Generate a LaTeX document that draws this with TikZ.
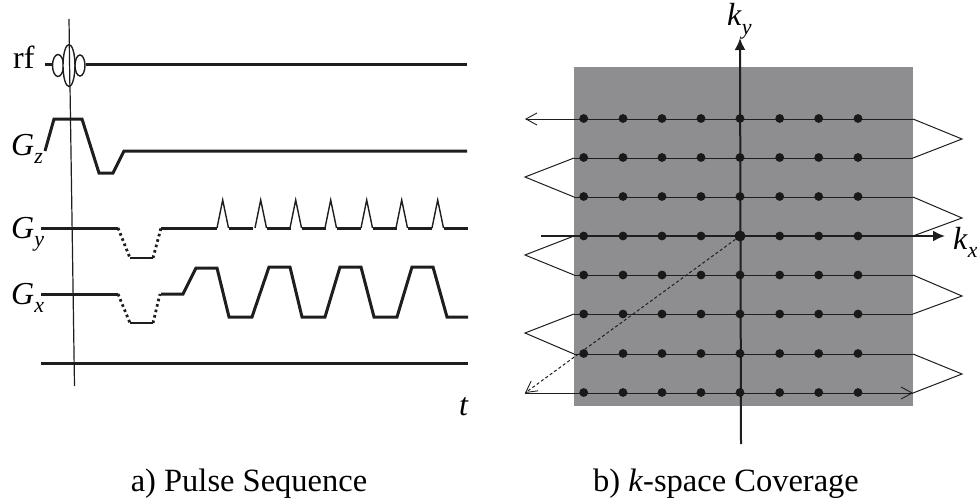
\documentclass[tikz,border=0pt]{standalone}
\usepackage{fontspec}
\setmainfont{Liberation Serif}
\usetikzlibrary{arrows.meta,shapes.geometric}
\definecolor{fieldgray}{RGB}{142,142,145}
\definecolor{lineblack}{RGB}{30,30,32}
\newcommand{\symlabel}[2]{\textit{#1}\raisebox{-.26em}{\fontsize{22}{22}\selectfont\textit{#2}}}

\begin{document}
\begin{tikzpicture}[
  x=1pt, y=-1pt,
  wave/.style={draw=lineblack, line width=3pt, line join=miter},
  pulse/.style={draw=lineblack, line width=1.4pt},
  dots/.style={draw=lineblack, line width=2.8pt, dash pattern=on 2.6pt off 3pt},
  thin line/.style={draw=lineblack, line width=1.2pt},
  trace/.style={draw=lineblack, line width=1pt},
  axis/.style={draw=lineblack, line width=2pt, -{Latex[length=12pt,width=11pt]}},
  barb/.style={-{Straight Barb[length=11pt,width=12pt,line width=0.9pt]}},
  dot/.style={circle, fill=black!90, inner sep=0pt, minimum size=8.8pt},
  lab/.style={anchor=base west, inner sep=0pt, font=\fontsize{32}{32}\selectfont},
  captext/.style={anchor=base, inner sep=0pt, font=\fontsize{32.5}{32.5}\selectfont}
]
\useasboundingbox (0,0) rectangle (977,503);

% pulse sequence
\node[lab] (rf) at (13,69) {rf};
\node[lab] (gz) at (11,155) {\symlabel{G}{z}};
\node[lab] (gy) at (11,238) {\symlabel{G}{y}};
\node[lab] (gx) at (11,304) {\symlabel{G}{x}};
\node[lab] (tlab) at (459,415) {\textit{t}};

\draw[thin line] (69,19) -- (74.5,386);
\draw[wave] (45,65) -- (52,65);
\draw[wave] (86,65) -- (467,65);
\foreach \name/\cx/\rx/\ry in {lobea/58/5.5/11, lobeb/69/6/21, lobec/80/5/10.5}
  \node[ellipse, draw=lineblack, line width=1.4pt, fill=white, inner sep=0pt, minimum width=2*\rx pt, minimum height=2*\ry pt] (\name) at (\cx,65.5) {};
\draw[thin line] (69.3,45) -- (69.9,87);

\draw[wave] (45,151) -- (54,119) -- (82,119) -- (99,173) -- (113,173) -- (124,151) -- (467,151);

\draw[wave] (41,228) -- (118,228);
\draw[dots] (118,228) -- (130,258);
\draw[wave, line width=2.4pt] (130,258) -- (153,258);
\draw[dots] (153,258) -- (161,228);
\draw[wave] (161,228) -- (217,228);
\foreach \sx [count=\n] in {217,255,290,325,361,396,432} {
  \draw[pulse] (\sx,228) -- (\sx+5.7,200) -- (\sx+11.5,228);
  \ifnum\n<7 \draw[wave] (\sx+11.5,228) -- (\sx+36,228); \fi
}
\draw[wave] (443.5,228) -- (468,228);

\draw[wave] (41,294) -- (118,294);
\draw[dots] (118,294) -- (130,323);
\draw[wave, line width=2.4pt] (130,323) -- (153,323);
\draw[dots] (153,323) -- (160,294);
\draw[wave] (161,294) -- (183,294) -- (196,268) -- (217,268) -- (229,317) -- (252,317) -- (269,267) -- (290,267) -- (302,317) -- (325,317) -- (340,267) -- (361,267) -- (374,317) -- (397,317) -- (412,267) -- (433,267) -- (447,317) -- (468,317);

\draw[wave] (41,363) -- (468,363);

% k-space
\node[fill=fieldgray, inner sep=0pt, minimum width=339pt, minimum height=339pt] (field) at (743.5,236.5) {};

\foreach \y [count=\r] in {119,158,197,236,275,314,354,393} {
  \coordinate (west\r) at (574,\y);
  \coordinate (east\r) at (913,\y);
  \draw[trace] (west\r) -- (east\r);
}
\coordinate (topend) at (525,119);
\coordinate (lowstart) at (525,393);
\draw[trace, barb] (west1) -- (topend);
\draw[trace, barb] (lowstart) -- (east8);
\foreach \a/\b/\ty in {1/2/139, 3/4/218, 5/6/296, 7/8/374} {
  \coordinate (turn\a) at (962,\ty);
  \draw[trace] (east\a) -- (turn\a) -- (east\b);
}
\foreach \a/\b/\ty in {2/3/177, 4/5/255, 6/7/333} {
  \coordinate (turn\a) at (525,\ty);
  \draw[trace] (west\a) -- (turn\a) -- (west\b);
}

\coordinate (kxstart) at (541,236);
\coordinate (kxend) at (945,236);
\coordinate (kystart) at (741,444);
\coordinate (kyend) at (740,38);
\draw[axis] (kxstart) -- (kxend);
\draw[axis] (kystart) -- (kyend);

\foreach \y [count=\r] in {118.5,157.5,196.5,236,275,314,353.5,392.5}
  \foreach \x [count=\c] in {583.7,623,662,701,740,779.7,818.7,858}
    \node[dot] (pt\r-\c) at (\x,\y) {};
\node[dot, minimum size=11pt] (origin) at (pt4-5) {};

\draw[trace, barb, dash pattern=on 3pt off 2.4pt] (origin) -- (lowstart);

\node[lab] (ky) at (727,26) {\symlabel{k}{y}};
\node[lab] (kx) at (953,249) {\symlabel{k}{x}};

\node[captext] (capa) at (249,491) {a) Pulse Sequence};
\node[captext] (capb) at (726,491) {b) \textit{k}-space Coverage};
\end{tikzpicture}
\end{document}
